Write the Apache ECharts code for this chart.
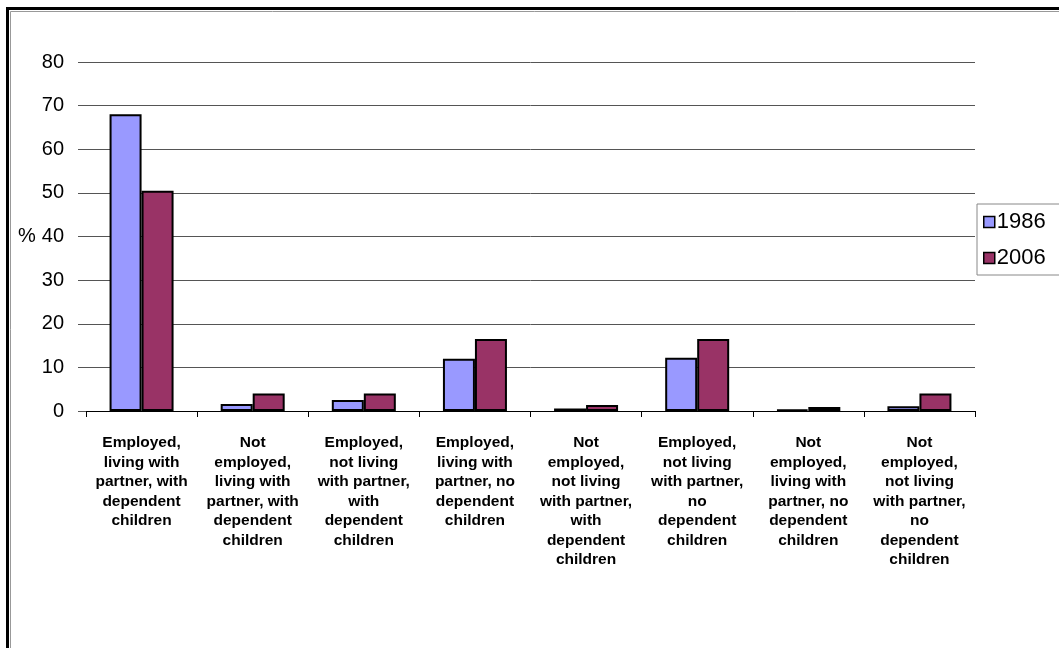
<!DOCTYPE html>
<html>
<head>
<meta charset="utf-8">
<script src="https://cdn.jsdelivr.net/npm/echarts@6/dist/echarts.min.js"></script>
<style>
html,body{margin:0;padding:0;background:#fff;}
#c{width:1059px;height:648px;}
</style>
</head>
<body>
<div id="c"></div>
<script>
var categories = [
  "Employed,\nliving with\npartner, with\ndependent\nchildren",
  "Not\nemployed,\nliving with\npartner, with\ndependent\nchildren",
  "Employed,\nnot living\nwith partner,\nwith\ndependent\nchildren",
  "Employed,\nliving with\npartner, no\ndependent\nchildren",
  "Not\nemployed,\nnot living\nwith partner,\nwith\ndependent\nchildren",
  "Employed,\nnot living\nwith partner,\nno\ndependent\nchildren",
  "Not\nemployed,\nliving with\npartner, no\ndependent\nchildren",
  "Not\nemployed,\nnot living\nwith partner,\nno\ndependent\nchildren"
];
var seriesNames = ["1986", "2006"];
var values1986 = [68, 1.6, 2.5, 12, 0.6, 12.2, 0.3, 1.1];
var values2006 = [50.5, 4.0, 4.0, 16.5, 1.4, 16.5, 0.9, 4.0];
var yTicks = {min: 0, max: 80, interval: 10};

var chart = echarts.init(document.getElementById('c'), null, {renderer: 'canvas'});
var barStyle = function (color) {
  return {color: color, borderColor: '#000', borderWidth: 2};
};
chart.setOption({
  backgroundColor: '#fff',
  animation: false,
  grid: {left: 86, right: 84, top: 62, bottom: 237, containLabel: false},
  legend: {
    show: true,
    orient: 'vertical',
    left: 977,
    top: 204,
    padding: [7, 14, 6, 6],
    itemGap: 14,
    itemWidth: 11,
    itemHeight: 11,
    borderColor: '#888',
    borderWidth: 1,
    textStyle: {fontFamily: 'Liberation Sans', fontSize: 22, color: '#000', padding: [0, 0, 0, -3]},
    data: seriesNames.map(function (n) {
      return {name: n, icon: 'rect', itemStyle: {borderColor: '#000', borderWidth: 1.5}};
    })
  },
  xAxis: {
    type: 'category',
    data: categories,
    axisLine: {show: true, lineStyle: {color: '#000', width: 1}},
    axisTick: {show: true, length: 6, alignWithLabel: false, lineStyle: {color: '#000'}},
    axisLabel: {
      interval: 0,
      margin: 22,
      fontFamily: 'Liberation Sans',
      fontWeight: 'bold',
      fontSize: 15.5,
      lineHeight: 19.5,
      color: '#000',
      align: 'center'
    }
  },
  yAxis: {
    type: 'value',
    min: yTicks.min,
    max: yTicks.max,
    interval: yTicks.interval,
    name: '%',
    nameLocation: 'middle',
    nameRotate: 0,
    nameGap: 48,
    nameTextStyle: {fontFamily: 'Liberation Sans', fontSize: 20, color: '#000'},
    axisLine: {show: false},
    axisTick: {show: true, length: 8, lineStyle: {color: '#555'}},
    splitLine: {show: true, lineStyle: {color: '#555', width: 1}},
    axisLabel: {fontFamily: 'Liberation Sans', fontSize: 20, color: '#000', margin: 22}
  },
  series: [
    {name: seriesNames[0], type: 'bar', data: values1986, barWidth: 32, barGap: '0%', itemStyle: barStyle('#9999FF')},
    {name: seriesNames[1], type: 'bar', data: values2006, barWidth: 32, barGap: '0%', itemStyle: barStyle('#993366')}
  ],
  graphic: [
    {type: 'rect', shape: {x: 6, y: 7, width: 1053, height: 3}, style: {fill: '#000'}},
    {type: 'rect', shape: {x: 6, y: 7, width: 3, height: 641}, style: {fill: '#000'}},
    {type: 'line', shape: {x1: 10.5, y1: 11.5, x2: 10.5, y2: 648}, style: {stroke: '#999', lineWidth: 1}},
    {type: 'line', shape: {x1: 10.5, y1: 11.5, x2: 1059, y2: 11.5}, style: {stroke: '#999', lineWidth: 1}}
  ]
});
</script>
</body>
</html>
